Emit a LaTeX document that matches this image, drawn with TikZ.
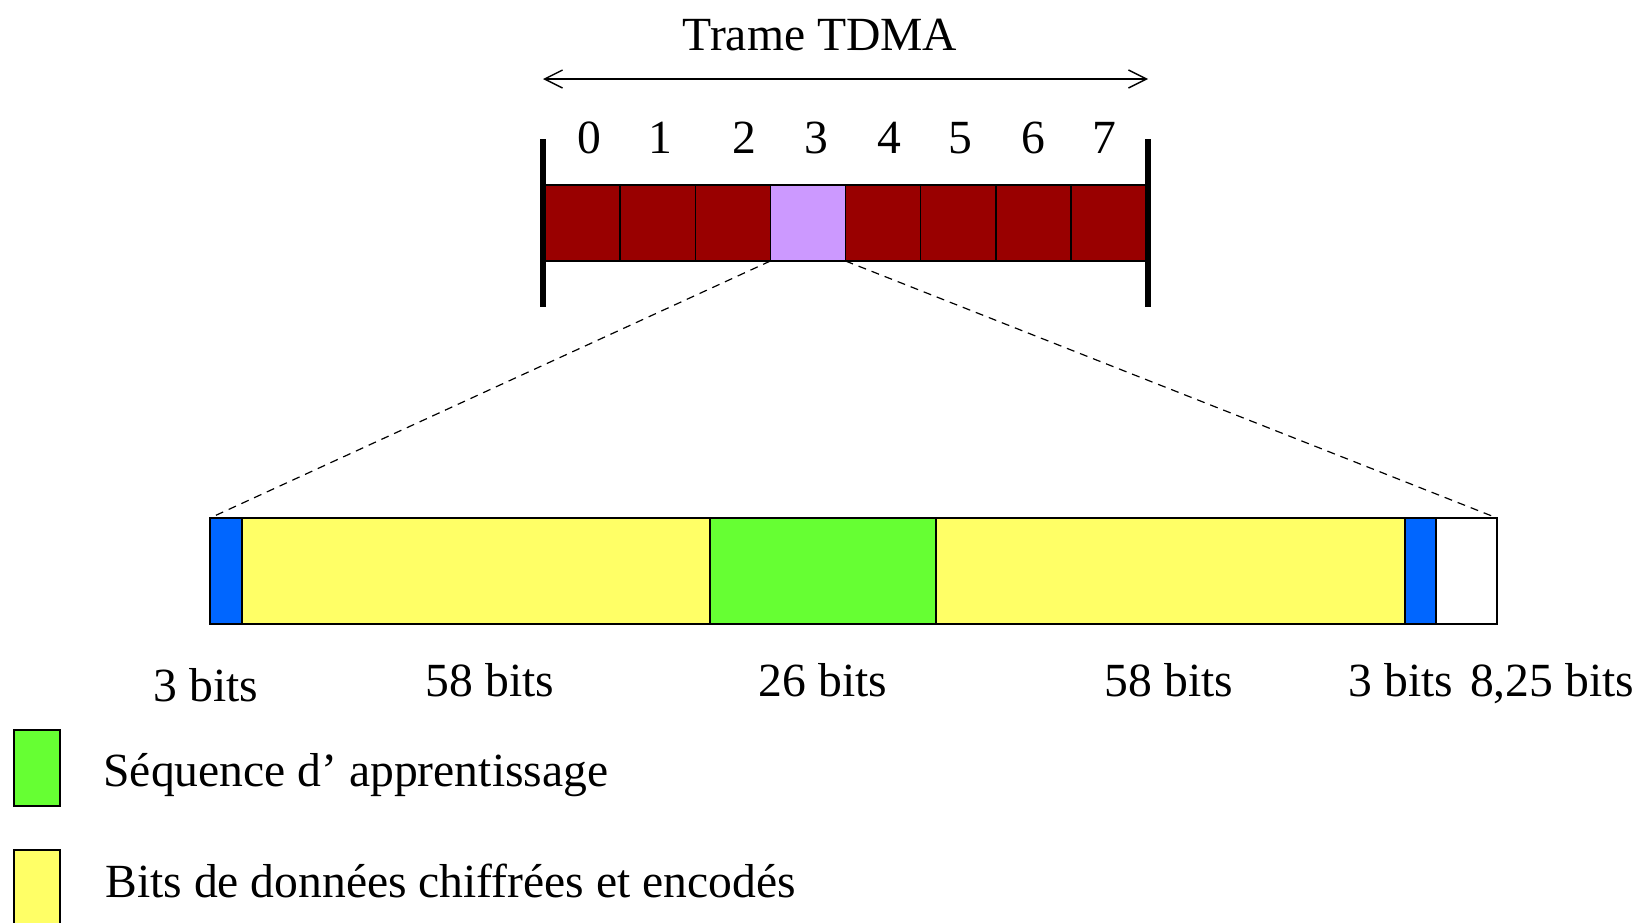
\documentclass[tikz,border=0pt]{standalone}
\usepackage{fontspec}
\setmainfont{Liberation Serif}
\usetikzlibrary{arrows.meta}
\definecolor{tdred}{RGB}{153,0,0}
\definecolor{tdpurple}{RGB}{204,153,255}
\definecolor{tdyellow}{RGB}{255,255,102}
\definecolor{tdgreen}{RGB}{102,255,51}
\definecolor{tdblue}{RGB}{0,102,255}
\tikzset{
  cellbox/.style={draw=black, line width=0.7pt, anchor=north west, inner sep=0pt, outer sep=0pt,
    minimum width=37.56pt, minimum height=38pt},
  segbox/.style={draw=black, line width=0.8pt, anchor=north west, inner sep=0pt, outer sep=0pt,
    minimum height=53pt},
  legbox/.style={draw=black, line width=0.8pt, anchor=north west, inner sep=0pt, outer sep=0pt,
    minimum width=23pt, minimum height=38pt},
  lbl/.style={anchor=base, inner sep=0pt},
  lbltext/.style={anchor=base west, inner sep=0pt},
  zoomline/.style={dashed, line width=0.6pt, dash pattern=on 4pt off 3pt},
  endbar/.style={line width=2.6pt},
}
\begin{document}
\begin{tikzpicture}[x=0.5pt,y=-0.5pt, font=\fontsize{23.8}{28}\selectfont]
\clip (0,0) rectangle (1641,922);
% title and arrow
\node[lbl] (title) at (820,50) {Trame TDMA};
\coordinate (al) at (543,79);
\coordinate (ar) at (1148,79);
\draw[line width=0.7pt, {Straight Barb[length=9pt,width=9pt]}-{Straight Barb[length=9pt,width=9pt]}] (al) -- (ar);
% slot numbers
\node[lbl] (n0) at (589,153) {0};
\node[lbl] (n1) at (660,153) {1};
\node[lbl] (n2) at (744,153) {2};
\node[lbl] (n3) at (816,153) {3};
\node[lbl] (n4) at (889,153) {4};
\node[lbl] (n5) at (960,153) {5};
\node[lbl] (n6) at (1033,153) {6};
\node[lbl] (n7) at (1104,153) {7};
% cells
\node[cellbox, fill=tdred] (c0) at (545,185) {};
\node[cellbox, fill=tdred] (c1) at (620.1,185) {};
\node[cellbox, fill=tdred] (c2) at (695.3,185) {};
\node[cellbox, fill=tdpurple] (c3) at (770.4,185) {};
\node[cellbox, fill=tdred] (c4) at (845.5,185) {};
\node[cellbox, fill=tdred] (c5) at (920.6,185) {};
\node[cellbox, fill=tdred] (c6) at (995.8,185) {};
\node[cellbox, fill=tdred] (c7) at (1070.9,185) {};
% end bars
\coordinate (lbt) at (543,139);
\coordinate (lbb) at (543,307);
\coordinate (rbt) at (1148,139);
\coordinate (rbb) at (1148,307);
\draw[endbar] (lbt) -- (lbb);
\draw[endbar] (rbt) -- (rbb);
% burst segments
\node[segbox, fill=tdblue, minimum width=16pt] (s1) at (210,518) {};
\node[segbox, fill=tdyellow, minimum width=234pt] (s2) at (242,518) {};
\node[segbox, fill=tdgreen, minimum width=113pt] (s3) at (710,518) {};
\node[segbox, fill=tdyellow, minimum width=234.5pt] (s4) at (936,518) {};
\node[segbox, fill=tdblue, minimum width=15.5pt] (s5) at (1405,518) {};
\node[segbox, fill=white, minimum width=30.5pt] (s6) at (1436,518) {};
% zoom lines
\draw[zoomline] (c3.south west) -- (s1.north west);
\draw[zoomline] (c3.south east) -- (s6.north east);
% segment labels
\node[lbl] (b1) at (206,701) {3 bits};
\node[lbl] (b2) at (490,696) {58 bits};
\node[lbl] (b3) at (823,696) {26 bits};
\node[lbl] (b4) at (1169,696) {58 bits};
\node[lbl] (b5) at (1401,696) {3 bits};
\node[lbl] (b6) at (1552,696) {8,25 bits};
% legend
\node[legbox, fill=tdgreen] (lg1) at (14,730) {};
\node[lbltext] (lt1) at (103,786) {Séquence d’ apprentissage};
\node[legbox, fill=tdyellow] (lg2) at (14,850) {};
\node[lbltext] (lt2) at (105,897) {Bits de données chiffrées et encodés};
\end{tikzpicture}
\end{document}
